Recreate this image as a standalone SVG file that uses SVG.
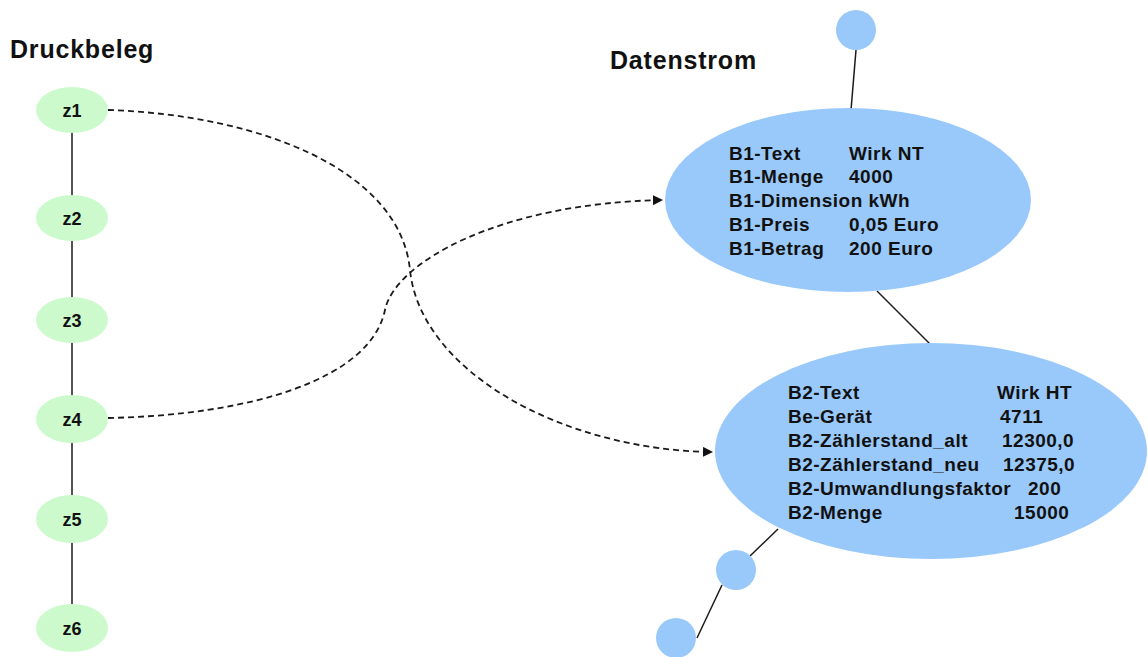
<svg xmlns="http://www.w3.org/2000/svg" width="1148" height="657" viewBox="0 0 1148 657">
<defs>
<style>
.t{font-family:"Liberation Sans",Arial,sans-serif;font-weight:bold;fill:#111}
.title{font-size:25px;letter-spacing:0.8px}
.z{font-size:18px;text-anchor:middle}
.b{font-size:19px;letter-spacing:0.5px}
.g{fill:#ccfacc}
.bl{fill:#99c9fa}
.solid{stroke:#1a1a1a;stroke-width:1.5;fill:none}
.dash{stroke:#1a1a1a;stroke-width:1.8;fill:none;stroke-dasharray:6 4}
</style>
<marker id="arr" viewBox="0 0 10 10" refX="10" refY="5" markerWidth="10" markerHeight="10" markerUnits="userSpaceOnUse" orient="auto">
<path d="M0,0 L10,5 L0,10 z" fill="#111"/>
</marker>
</defs>
<rect width="1148" height="657" fill="#fff"/>
<text class="t title" x="10" y="58">Druckbeleg</text>
<text class="t title" x="610" y="69">Datenstrom</text>
<g id="connectors">
<line class="solid" x1="72" y1="110" x2="72" y2="628"/>
<line class="solid" x1="856" y1="50" x2="851" y2="110"/>
<line class="solid" x1="877" y1="291" x2="930" y2="344"/>
<line class="solid" x1="778" y1="529" x2="750" y2="556"/>
<line class="solid" x1="722" y1="585" x2="697" y2="638"/>
<path class="dash" d="M108,110 C260,115 400,170 410,270 C420,370 560,450 713,452" marker-end="url(#arr)"/>
<path class="dash" d="M108,418 C250,415 370,380 385,310 C395,262 500,203 663,200" marker-end="url(#arr)"/>
</g>
<g id="z1"><ellipse class="g" cx="72" cy="110" rx="36" ry="23"/><text class="t z" x="72" y="117">z1</text></g>
<g id="z2"><ellipse class="g" cx="72" cy="218" rx="36" ry="23"/><text class="t z" x="72" y="225">z2</text></g>
<g id="z3"><ellipse class="g" cx="72" cy="320" rx="36" ry="23"/><text class="t z" x="72" y="327">z3</text></g>
<g id="z4"><ellipse class="g" cx="72" cy="419" rx="36" ry="24"/><text class="t z" x="72" y="426">z4</text></g>
<g id="z5"><ellipse class="g" cx="72" cy="519" rx="36" ry="24"/><text class="t z" x="72" y="526">z5</text></g>
<g id="z6"><ellipse class="g" cx="72" cy="628" rx="36" ry="24"/><text class="t z" x="72" y="635">z6</text></g>
<g id="c-top"><circle class="bl" cx="856" cy="30" r="20"/></g>
<g id="B1">
<ellipse class="bl" cx="848" cy="200" rx="183" ry="92"/>
<text class="t b" x="729" y="160">B1-Text</text><text class="t b" x="849" y="160">Wirk NT</text>
<text class="t b" x="729" y="183">B1-Menge</text><text class="t b" x="849" y="183">4000</text>
<text class="t b" x="729" y="207">B1-Dimension kWh</text>
<text class="t b" x="729" y="231">B1-Preis</text><text class="t b" x="849" y="231">0,05 Euro</text>
<text class="t b" x="729" y="255">B1-Betrag</text><text class="t b" x="849" y="255">200 Euro</text>
</g>
<g id="B2">
<ellipse class="bl" cx="931" cy="451" rx="216" ry="108"/>
<text class="t b" x="788" y="399">B2-Text</text><text class="t b" x="997" y="399">Wirk HT</text>
<text class="t b" x="788" y="423">Be-Gerät</text><text class="t b" x="1000" y="423">4711</text>
<text class="t b" x="788" y="447">B2-Zählerstand_alt</text><text class="t b" x="1002" y="447">12300,0</text>
<text class="t b" x="788" y="471">B2-Zählerstand_neu</text><text class="t b" x="1003" y="471">12375,0</text>
<text class="t b" x="788" y="495">B2-Umwandlungsfaktor</text><text class="t b" x="1028" y="495">200</text>
<text class="t b" x="788" y="519">B2-Menge</text><text class="t b" x="1014" y="519">15000</text>
</g>
<g id="c1"><circle class="bl" cx="736" cy="570" r="20"/></g>
<g id="c2"><circle class="bl" cx="676" cy="638" r="20"/></g>
</svg>
